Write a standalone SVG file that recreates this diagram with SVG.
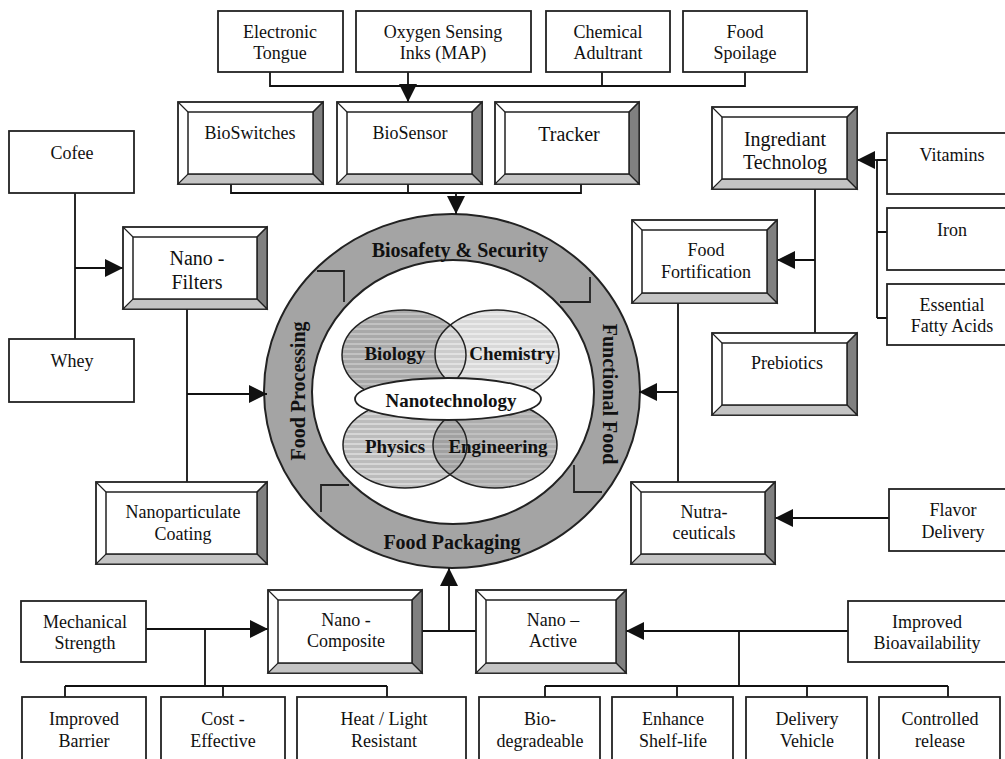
<svg xmlns="http://www.w3.org/2000/svg" width="1005" height="759" viewBox="0 0 1005 759">
<style>
text{font-family:"Liberation Serif","Times New Roman",serif;font-size:18px;fill:#111;text-anchor:middle}
.b{font-weight:bold;font-size:19px}
.big{font-size:20px}
.plain{fill:#fff;stroke:#222;stroke-width:1.8}
.o{fill:#fff;stroke:#222;stroke-width:1.8}
.in{fill:#fff;stroke:#222;stroke-width:1.5}
.r{fill:#808080;stroke:#222;stroke-width:1.2}
.bt{fill:#c4c4c4;stroke:#222;stroke-width:1.2}
.d{stroke:#222;stroke-width:1.2}
.c{fill:none;stroke:#222;stroke-width:1.8}
</style>
<defs>
<marker id="ah" markerWidth="18" markerHeight="18" refX="18" refY="9" orient="auto" markerUnits="userSpaceOnUse"><path d="M0,0 L18,9 L0,18 z" fill="#111"/></marker>
<pattern id="pBio" width="8" height="5" patternUnits="userSpaceOnUse"><rect width="8" height="5" fill="#a9a9a9"/><rect y="3" width="8" height="2" fill="#c2c2c2"/></pattern>
<pattern id="pChe" width="8" height="5" patternUnits="userSpaceOnUse"><rect width="8" height="5" fill="#d2d2d2"/><rect y="3" width="8" height="2" fill="#e6e6e6"/></pattern>
<pattern id="pPhy" width="8" height="5" patternUnits="userSpaceOnUse"><rect width="8" height="5" fill="#bcbcbc"/><rect y="3" width="8" height="2" fill="#d6d6d6"/></pattern>
<pattern id="pEng" width="8" height="5" patternUnits="userSpaceOnUse"><rect width="8" height="5" fill="#9a9a9a"/><rect y="3" width="8" height="2" fill="#b0b0b0"/></pattern>
</defs>
<rect width="1005" height="759" fill="#fff"/>

<!-- central circle -->
<g id="core">
<ellipse cx="452" cy="391" rx="188" ry="177" fill="#a4a4a4" stroke="#222" stroke-width="2"/>
<ellipse cx="453" cy="392" rx="141" ry="132" fill="#fff" stroke="#222" stroke-width="2"/>
<polyline class="c" points="317,271 344,271 344,302"/>
<polyline class="c" points="590,277 590,302 560,302"/>
<polyline class="c" points="574,465 574,492 602,492"/>
<polyline class="c" points="321,512 321,485 349,485"/>
<text class="b big" x="460" y="257">Biosafety &amp; Security</text>
<text class="b big" x="452" y="549">Food Packaging</text>
<text class="b big" transform="translate(305,391) rotate(-90)">Food Processing</text>
<text class="b big" transform="translate(603,394) rotate(90)">Functional Food</text>
<ellipse cx="404" cy="355" rx="62" ry="45" fill="url(#pBio)"/>
<ellipse cx="497" cy="354" rx="62" ry="44" fill="url(#pChe)" fill-opacity="0.85"/>
<ellipse cx="405" cy="445" rx="62" ry="43" fill="url(#pPhy)"/>
<ellipse cx="495" cy="445" rx="62" ry="43" fill="url(#pEng)" fill-opacity="0.8"/>
<ellipse cx="404" cy="355" rx="62" ry="45" fill="none" stroke="#222" stroke-width="1.5"/>
<ellipse cx="497" cy="354" rx="62" ry="44" fill="none" stroke="#222" stroke-width="1.5"/>
<ellipse cx="405" cy="445" rx="62" ry="43" fill="none" stroke="#222" stroke-width="1.5"/>
<ellipse cx="495" cy="445" rx="62" ry="43" fill="none" stroke="#222" stroke-width="1.5"/>
<ellipse cx="448" cy="399" rx="93" ry="21" fill="#fff" stroke="#222" stroke-width="1.8"/>
<text class="b" x="395" y="360">Biology</text>
<text class="b" x="512" y="360">Chemistry</text>
<text class="b" x="451" y="407">Nanotechnology</text>
<text class="b" x="395" y="453">Physics</text>
<text class="b" x="498" y="453">Engineering</text>
</g>

<!-- connectors -->
<g id="connectors" fill="none" stroke="#111" stroke-width="1.8">
<path d="M270,72 V86 H745 V72 M602,72 V86"/>
<path d="M408,72 V102" marker-end="url(#ah)"/>
<path d="M231,184 V193 H581 V184 M408,184 V193"/>
<path d="M456,193 V214" marker-end="url(#ah)"/>
<path d="M75,193 V339"/>
<path d="M75,268 H123" marker-end="url(#ah)"/>
<path d="M187,309 V482"/>
<path d="M187,394 H267" marker-end="url(#ah)"/>
<path d="M877,160 V318 M877,160 H887 M877,232 H887 M877,318 H887"/>
<path d="M877,160 H857" marker-end="url(#ah)"/>
<path d="M815,189 V333"/>
<path d="M815,260 H777" marker-end="url(#ah)"/>
<path d="M678,303 V482"/>
<path d="M678,392 H639" marker-end="url(#ah)"/>
<path d="M889,518 H775" marker-end="url(#ah)"/>
<path d="M146,629 H268" marker-end="url(#ah)"/>
<path d="M205,629 V686 M65,686 H387 M65,686 V697 M223,686 V697 M387,686 V697"/>
<path d="M412,631 H486"/>
<path d="M449,631 V568" marker-end="url(#ah)"/>
<path d="M848,631 H626" marker-end="url(#ah)"/>
<path d="M739,631 V686 M545,686 H948 M545,686 V697 M677,686 V697 M807,686 V697 M948,686 V697"/>
</g>

<!-- plain boxes -->
<g id="electronic-tongue"><rect class="plain" x="218" y="11" width="125" height="61"/><text x="280" y="38">Electronic</text><text x="280" y="59">Tongue</text></g>
<g id="oxygen-inks"><rect class="plain" x="356" y="11" width="175" height="61"/><text x="443" y="38">Oxygen Sensing</text><text x="443" y="59">Inks (MAP)</text></g>
<g id="chemical-adultrant"><rect class="plain" x="546" y="11" width="124" height="61"/><text x="608" y="38">Chemical</text><text x="608" y="59">Adultrant</text></g>
<g id="food-spoilage"><rect class="plain" x="683" y="11" width="124" height="61"/><text x="745" y="38">Food</text><text x="745" y="59">Spoilage</text></g>
<g id="cofee"><rect class="plain" x="9" y="131" width="125" height="62"/><text x="72" y="159">Cofee</text></g>
<g id="whey"><rect class="plain" x="9" y="339" width="125" height="63"/><text x="72" y="367">Whey</text></g>
<g id="vitamins"><rect class="plain" x="887" y="133" width="130" height="61"/><text x="952" y="161">Vitamins</text></g>
<g id="iron"><rect class="plain" x="887" y="208" width="130" height="62"/><text x="952" y="236">Iron</text></g>
<g id="essential-fatty-acids"><rect class="plain" x="887" y="284" width="130" height="61"/><text x="952" y="311">Essential</text><text x="952" y="332">Fatty Acids</text></g>
<g id="flavor-delivery"><rect class="plain" x="889" y="489" width="130" height="62"/><text x="953" y="516">Flavor</text><text x="953" y="538">Delivery</text></g>
<g id="mechanical-strength"><rect class="plain" x="21" y="601" width="125" height="61"/><text x="85" y="628">Mechanical</text><text x="85" y="649">Strength</text></g>
<g id="improved-bioavailability"><rect class="plain" x="848" y="601" width="170" height="61"/><text x="927" y="628">Improved</text><text x="927" y="649">Bioavailability</text></g>
<g id="improved-barrier"><rect class="plain" x="22" y="697" width="124" height="70"/><text x="84" y="725">Improved</text><text x="84" y="747">Barrier</text></g>
<g id="cost-effective"><rect class="plain" x="161" y="697" width="124" height="70"/><text x="223" y="725">Cost -</text><text x="223" y="747">Effective</text></g>
<g id="heat-light"><rect class="plain" x="297" y="697" width="169" height="70"/><text x="384" y="725">Heat / Light</text><text x="384" y="747">Resistant</text></g>
<g id="biodegradeable"><rect class="plain" x="479" y="697" width="121" height="70"/><text x="540" y="725">Bio-</text><text x="540" y="747">degradeable</text></g>
<g id="enhance-shelf-life"><rect class="plain" x="612" y="697" width="121" height="70"/><text x="673" y="725">Enhance</text><text x="673" y="747">Shelf-life</text></g>
<g id="delivery-vehicle"><rect class="plain" x="746" y="697" width="121" height="70"/><text x="807" y="725">Delivery</text><text x="807" y="747">Vehicle</text></g>
<g id="controlled-release"><rect class="plain" x="879" y="697" width="121" height="70"/><text x="940" y="725">Controlled</text><text x="940" y="747">release</text></g>

<!-- beveled boxes -->
<g id="bioswitches">
<rect class="o" x="178" y="102" width="145" height="82"/>
<polygon class="r" points="323,102 323,184 313,174 313,112"/>
<polygon class="bt" points="178,184 323,184 313,174 188,174"/>
<path class="d" d="M178,102 L188,112 M323,102 L313,112"/>
<rect class="in" x="188" y="112" width="125" height="62"/>
<text x="250" y="139">BioSwitches</text>
</g>
<g id="biosensor">
<rect class="o" x="337" y="102" width="145" height="82"/>
<polygon class="r" points="482,102 482,184 472,174 472,112"/>
<polygon class="bt" points="337,184 482,184 472,174 347,174"/>
<path class="d" d="M337,102 L347,112 M482,102 L472,112"/>
<rect class="in" x="347" y="112" width="125" height="62"/>
<text x="410" y="139">BioSensor</text>
</g>
<g id="tracker">
<rect class="o" x="495" y="102" width="144" height="82"/>
<polygon class="r" points="639,102 639,184 629,174 629,112"/>
<polygon class="bt" points="495,184 639,184 629,174 505,174"/>
<path class="d" d="M495,102 L505,112 M639,102 L629,112"/>
<rect class="in" x="505" y="112" width="124" height="62"/>
<text class="big" x="569" y="141">Tracker</text>
</g>
<g id="ingrediant-technolog">
<rect class="o" x="712" y="107" width="145" height="82"/>
<polygon class="r" points="857,107 857,189 847,179 847,117"/>
<polygon class="bt" points="712,189 857,189 847,179 722,179"/>
<path class="d" d="M712,107 L722,117 M857,107 L847,117"/>
<rect class="in" x="722" y="117" width="125" height="62"/>
<text class="big" x="785" y="146">Ingrediant</text><text class="big" x="785" y="169">Technolog</text>
</g>
<g id="nano-filters">
<rect class="o" x="123" y="227" width="144" height="82"/>
<polygon class="r" points="267,227 267,309 257,299 257,237"/>
<polygon class="bt" points="123,309 267,309 257,299 133,299"/>
<path class="d" d="M123,227 L133,237 M267,227 L257,237"/>
<rect class="in" x="133" y="237" width="124" height="62"/>
<text class="big" x="197" y="265">Nano -</text><text class="big" x="197" y="289">Filters</text>
</g>
<g id="food-fortification">
<rect class="o" x="632" y="220" width="145" height="83"/>
<polygon class="r" points="777,220 777,303 767,293 767,230"/>
<polygon class="bt" points="632,303 777,303 767,293 642,293"/>
<path class="d" d="M632,220 L642,230 M777,220 L767,230"/>
<rect class="in" x="642" y="230" width="125" height="63"/>
<text x="706" y="256">Food</text><text x="706" y="278">Fortification</text>
</g>
<g id="prebiotics">
<rect class="o" x="712" y="333" width="145" height="82"/>
<polygon class="r" points="857,333 857,415 847,405 847,343"/>
<polygon class="bt" points="712,415 857,415 847,405 722,405"/>
<path class="d" d="M712,333 L722,343 M857,333 L847,343"/>
<rect class="in" x="722" y="343" width="125" height="62"/>
<text x="787" y="369">Prebiotics</text>
</g>
<g id="nanoparticulate-coating">
<rect class="o" x="96" y="482" width="171" height="82"/>
<polygon class="r" points="267,482 267,564 257,554 257,492"/>
<polygon class="bt" points="96,564 267,564 257,554 106,554"/>
<path class="d" d="M96,482 L106,492 M267,482 L257,492"/>
<rect class="in" x="106" y="492" width="151" height="62"/>
<text x="183" y="518">Nanoparticulate</text><text x="183" y="540">Coating</text>
</g>
<g id="nutraceuticals">
<rect class="o" x="631" y="482" width="144" height="82"/>
<polygon class="r" points="775,482 775,564 765,554 765,492"/>
<polygon class="bt" points="631,564 775,564 765,554 641,554"/>
<path class="d" d="M631,482 L641,492 M775,482 L765,492"/>
<rect class="in" x="641" y="492" width="124" height="62"/>
<text x="704" y="518">Nutra-</text><text x="704" y="539">ceuticals</text>
</g>
<g id="nano-composite">
<rect class="o" x="268" y="590" width="154" height="83"/>
<polygon class="r" points="422,590 422,673 412,663 412,600"/>
<polygon class="bt" points="268,673 422,673 412,663 278,663"/>
<path class="d" d="M268,590 L278,600 M422,590 L412,600"/>
<rect class="in" x="278" y="600" width="134" height="63"/>
<text x="346" y="626">Nano -</text><text x="346" y="647">Composite</text>
</g>
<g id="nano-active">
<rect class="o" x="476" y="590" width="150" height="83"/>
<polygon class="r" points="626,590 626,673 616,663 616,600"/>
<polygon class="bt" points="476,673 626,673 616,663 486,663"/>
<path class="d" d="M476,590 L486,600 M626,590 L616,600"/>
<rect class="in" x="486" y="600" width="130" height="63"/>
<text x="553" y="626">Nano –</text><text x="553" y="647">Active</text>
</g>
</svg>
